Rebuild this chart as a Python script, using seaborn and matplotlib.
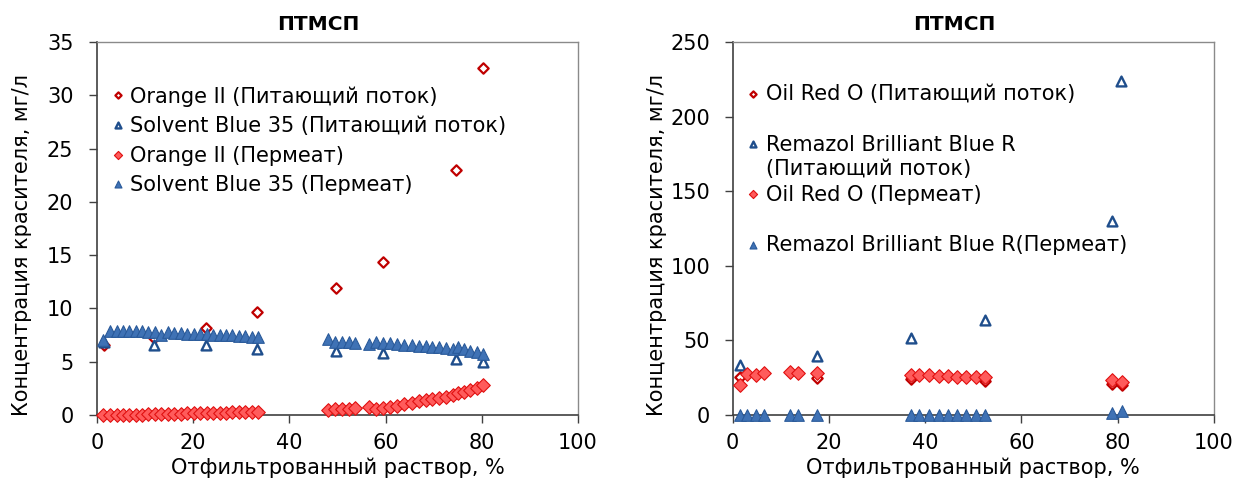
import numpy as np
import pandas as pd
import matplotlib
matplotlib.use("Agg")
import matplotlib.pyplot as plt
import seaborn as sns

# ---------------- Left panel data ----------------
orange_feed_x = [1.4, 11.8, 22.6, 33.2, 49.6, 59.4, 74.6, 80.2]
orange_feed_y = [6.6, 7.2, 8.2, 9.7, 11.9, 14.4, 23.0, 32.6]
sb35_feed_x = [1.4, 11.8, 22.6, 33.2, 49.6, 59.4, 74.6, 80.2]
sb35_feed_y = [6.9, 6.6, 6.6, 6.2, 6.0, 5.8, 5.3, 5.0]

perm_x_left = [1.2, 2.6, 4.1, 5.4, 6.6, 8.0, 9.3, 10.6, 12.0, 13.2, 14.7, 15.9, 17.4,
               18.6, 20.1, 21.5, 22.8, 24.1, 25.5, 26.9, 28.1, 29.6, 30.8, 32.2, 33.5,
               48.1, 49.5, 50.9, 52.3, 53.7,
               56.5, 58.0, 59.4, 60.9, 62.4, 63.9, 65.4, 66.9, 68.3, 69.6, 71.0, 72.6,
               74.0, 75.0, 76.3, 77.6, 79.0, 80.2]
orange_perm_y = [0.0, 0.0, 0.0, 0.02, 0.03, 0.05, 0.05, 0.07, 0.08, 0.1, 0.12, 0.12, 0.14,
                 0.15, 0.16, 0.18, 0.2, 0.2, 0.22, 0.23, 0.24, 0.25, 0.26, 0.27, 0.3,
                 0.47, 0.55, 0.6, 0.6, 0.63,
                 0.72, 0.53, 0.63, 0.78, 0.88, 1.03, 1.13, 1.28, 1.38, 1.47, 1.59, 1.72,
                 1.91, 2.03, 2.19, 2.35, 2.5, 2.81]
sb35_perm_y = [7.0, 7.9, 7.9, 7.9, 7.9, 7.85, 7.85, 7.8, 7.8, 7.5, 7.75, 7.7, 7.7,
               7.65, 7.65, 7.6, 7.6, 7.55, 7.55, 7.5, 7.5, 7.45, 7.4, 7.35, 7.3,
               7.1, 6.9, 6.85, 6.85, 6.8,
               6.7, 6.9, 6.8, 6.75, 6.7, 6.6, 6.55, 6.5, 6.45, 6.4, 6.35, 6.3,
               6.2, 6.35, 6.2, 6.0, 5.9, 5.75]

# ---------------- Right panel data ----------------
oro_feed_x = [1.6, 17.6, 37.1, 52.4, 78.8, 80.8]
oro_feed_y = [25.7, 24.6, 23.9, 22.8, 21.0, 20.1]
rbb_feed_x = [1.6, 17.6, 37.1, 52.4, 78.8, 80.7]
rbb_feed_y = [33.5, 39.8, 51.4, 63.7, 130.0, 224.0]

perm_x_right = [1.6, 3.1, 4.8, 6.6, 11.9, 13.7, 17.6, 37.1, 38.8, 40.9, 42.8, 44.7,
                46.7, 48.5, 50.6, 52.5, 78.8, 80.8]
oro_perm_y = [20.1, 27.5, 27.0, 28.4, 28.6, 28.0, 28.0, 27.0, 26.6, 26.6, 26.3, 26.3,
              25.7, 25.7, 25.3, 25.3, 23.5, 21.9]
rbb_perm_y = [0, 0, 0, 0, 0, 0, 0, 0, 0, 0, 0, 0, 0, 0, 0, 0, 1.5, 3.0]

title_txt = "ПТМСП"
xlabel_txt = "Отфильтрованный раствор, %"
ylabel_txt = "Концентрация красителя, мг/л"

left_labels = ["Orange II (Питающий поток)", "Solvent Blue 35 (Питающий поток)",
               "Orange II (Пермеат)", "Solvent Blue 35 (Пермеат)"]
right_labels = ["Oil Red O (Питающий поток)\n", "Remazol Brilliant Blue R\n(Питающий поток)",
                "Oil Red O (Пермеат)\n", "Remazol Brilliant Blue R(Пермеат)\n"]

sns.set_style("white")
plt.rcParams['font.family'] = ['DejaVu Sans']
plt.rcParams['text.color'] = 'black'
plt.rcParams['axes.labelcolor'] = 'black'
plt.rcParams['xtick.color'] = 'black'
plt.rcParams['ytick.color'] = 'black'

RED_DARK = "#C00000"
RED_FILL = "#FF5B5B"
RED_EDGE = "#E01010"
BLUE_DARK = "#1F4E8C"
BLUE_FILL = "#3F72B5"
BLUE_EDGE = "#2A5A9A"

FS = 15

fig = plt.figure(figsize=(12.33, 4.86), dpi=100)
axL = fig.add_axes([0.0787, 0.146, 0.3901, 0.7675])
axR = fig.add_axes([0.5941, 0.146, 0.3905, 0.7675])


def draw(ax, fx1, fy1, fx2, fy2, px, py1, py2, labels):
    sns.scatterplot(x=fx1, y=fy1, ax=ax, marker='D', s=28, facecolor='white',
                    edgecolor=RED_DARK, linewidth=1.6, label=labels[0], zorder=3,
                    clip_on=False)
    sns.scatterplot(x=fx2, y=fy2, ax=ax, marker='^', s=50, facecolor='white',
                    edgecolor=BLUE_DARK, linewidth=1.7, label=labels[1], zorder=3,
                    clip_on=False)
    sns.scatterplot(x=px, y=py1, ax=ax, marker='D', s=48, facecolor=RED_FILL,
                    edgecolor=RED_EDGE, linewidth=0.8, label=labels[2], zorder=4,
                    clip_on=False)
    sns.scatterplot(x=px, y=py2, ax=ax, marker='^', s=70, facecolor=BLUE_FILL,
                    edgecolor=BLUE_EDGE, linewidth=0.8, label=labels[3], zorder=4,
                    clip_on=False)


draw(axL, orange_feed_x, orange_feed_y, sb35_feed_x, sb35_feed_y,
     perm_x_left, orange_perm_y, sb35_perm_y, left_labels)
draw(axR, oro_feed_x, oro_feed_y, rbb_feed_x, rbb_feed_y,
     perm_x_right, oro_perm_y, rbb_perm_y, right_labels)

axL.set_ylim(0, 35)
axL.set_yticks(np.arange(0, 36, 5))
axR.set_ylim(0, 250)
axR.set_yticks(np.arange(0, 251, 50))

for ax, lx, ypad in ((axL, -0.135, 11), (axR, -0.136, 10)):
    ax.set_xlim(0, 100)
    ax.set_xticks(np.arange(0, 101, 20))
    ax.set_title(title_txt, fontsize=14.5, fontweight='bold', pad=9, color='black',
                 x=0.46)
    ax.set_xlabel(xlabel_txt, fontsize=FS, labelpad=3)
    ax.set_ylabel(ylabel_txt, fontsize=FS)
    ax.yaxis.set_label_coords(lx, 0.456)
    ax.tick_params(axis='both', direction='out', length=6, width=1, color='#404040',
                   labelsize=FS, left=True, bottom=True, labelcolor='black')
    ax.tick_params(axis='x', pad=7)
    ax.tick_params(axis='y', pad=ypad)
    for side in ('left', 'bottom'):
        ax.spines[side].set_color('#404040')
        ax.spines[side].set_linewidth(1.2)
    for side in ('top', 'right'):
        ax.spines[side].set_color('#8a8a8a')
        ax.spines[side].set_linewidth(1.0)
    ax.grid(False)

legL = axL.legend(loc='upper left', bbox_to_anchor=(0.0, 0.915), frameon=False,
                  fontsize=FS, markerscale=0.6, handletextpad=0.2, labelspacing=0.46,
                  handlelength=0.8, scatteryoffsets=[0.5], borderaxespad=0.2)
legR = axR.legend(loc='upper left', bbox_to_anchor=(0.0, 0.92), frameon=False,
                  fontsize=FS, markerscale=0.6, handletextpad=0.2, labelspacing=0.26,
                  handlelength=0.8, scatteryoffsets=[0.5], borderaxespad=0.2)
for t in legR.get_texts():
    t.set_linespacing(1.3)
# put the legend markers level with the first line of each two-line entry
dy = 0.65 * FS
for h in legR.legend_handles:
    off = np.array(h.get_offsets())
    off[:, 1] += dy
    h.set_offsets(off)

fig.savefig("out.png", dpi=100)
